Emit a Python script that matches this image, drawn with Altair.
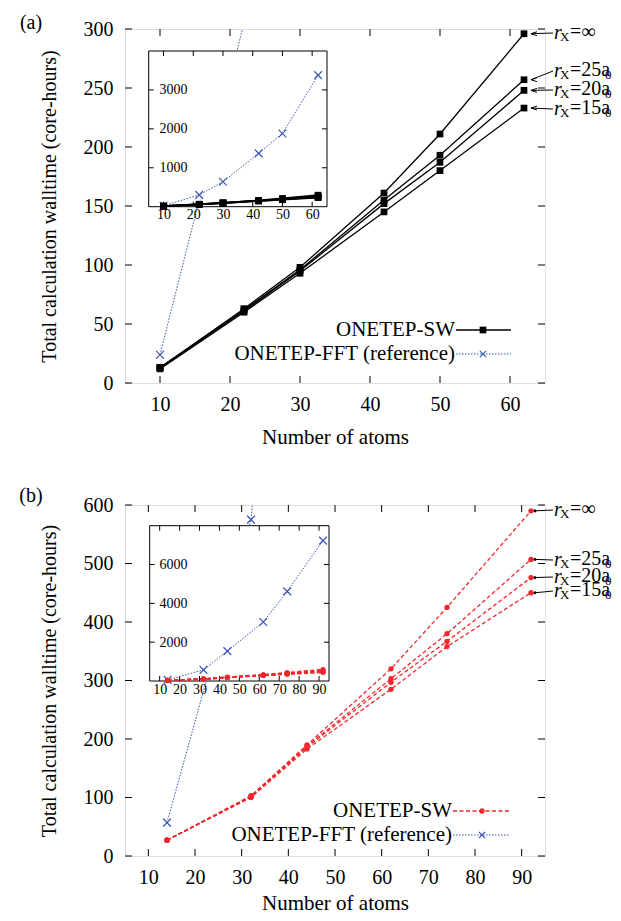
import altair as alt
import pandas as pd

FONT = "Liberation Serif, Times New Roman, Times, serif"
BLUE = "#3a56b4"
RED = "#f0282d"
CROSS = "M-1,-1L1,1M-1,1L1,-1"
ARROW = "M-1,0L0.7,-0.55M-1,0L0.7,0.55"

# ---------------- data: panel (a) ----------------
atoms_a = [10, 22, 30, 42, 50, 62]
sw_inf_a = [13, 63, 98, 161, 211, 296]
sw_25_a = [13, 62, 96, 155, 193, 257]
sw_20_a = [13, 61, 95, 152, 187, 248]
sw_15_a = [12, 60, 93, 145, 180, 233]
fft_a = [24, 305, 640, 1370, 1880, 3380]

# ---------------- data: panel (b) ----------------
atoms_b = [14, 32, 44, 62, 74, 92]
sw_inf_b = [27, 103, 190, 320, 425, 590]
sw_25_b = [27, 102, 188, 303, 380, 507]
sw_20_b = [27, 101, 186, 297, 367, 476]
sw_15_b = [27, 100, 183, 285, 358, 450]
fft_b = [57, 575, 1540, 3040, 4615, 7230]

series_names = ["inf", "25", "20", "15"]
label_main = ["=\u221e", "=25a", "=20a", "=15a"]
label_sub0 = ["", "0", "0", "0"]

xticks_a = [10, 20, 30, 40, 50, 60]
yticks_a = [0, 50, 100, 150, 200, 250, 300]
inset_xticks_a = [10, 20, 30, 40, 50, 60]
inset_yticks_a = [1000, 2000, 3000]

xticks_b = [10, 20, 30, 40, 50, 60, 70, 80, 90]
yticks_b = [0, 100, 200, 300, 400, 500, 600]
inset_xticks_b = [10, 20, 30, 40, 50, 60, 70, 80, 90]
inset_yticks_b = [2000, 4000, 6000]

legend_sw = "ONETEP-SW"
legend_fft = "ONETEP-FFT (reference)"
x_title = "Number of atoms"
y_title = "Total calculation walltime (core-hours)"

W = 420
ONE = pd.DataFrame({"d": [0]})


def long_df(atoms, series):
    rows = []
    for name, vals in series:
        for a, v in zip(atoms, vals):
            rows.append({"atoms": a, "time": v, "series": name})
    return pd.DataFrame(rows)


def txt(x, y, s, size=20, align="left", style="normal"):
    return alt.Chart(ONE).mark_text(align=align, baseline="middle", fontSize=size, fontStyle=style,
                                    font=FONT, color="black").encode(
        x=alt.value(x), y=alt.value(y), text=alt.value(s))


def make_panel(cfg):
    H = cfg["H"]
    xdom, ydom = cfg["xdom"], cfg["ydom"]
    ax_x = alt.Axis(values=cfg["xticks"], ticks=False, domain=False, grid=False,
                    labelFontSize=20, labelPadding=cfg["xlab_pad"], labelFlush=False, labelOverlap=False,
                    title=x_title, titleFontSize=21, titlePadding=cfg["xtitle_pad"],
                    titleFontWeight="normal")
    ax_y = alt.Axis(values=cfg["yticks"], ticks=False, domain=False, grid=False,
                    labelFontSize=20, labelPadding=12, labelOverlap=False,
                    title=y_title, titleFontSize=20, titlePadding=24,
                    titleFontWeight="normal")
    X = alt.X("atoms:Q", scale=alt.Scale(domain=xdom, nice=False, zero=False), axis=ax_x)
    Y = alt.Y("time:Q", scale=alt.Scale(domain=ydom, nice=False, zero=False), axis=ax_y)

    il, ir, it, ib = cfg["inset_box"]
    iax_x = alt.Axis(values=cfg["ixticks"], ticks=False, domain=False, grid=False,
                     labelFontSize=14, labelPadding=1, labelFlush=False, labelOverlap=False,
                     orient="bottom", offset=-(H - ib), title="", zindex=2, format="d")
    iax_y = alt.Axis(values=cfg["iyticks"], ticks=False, domain=False, grid=False,
                     labelFontSize=14, labelPadding=2, labelOverlap=False,
                     orient="left", offset=-cfg["iylab_right"] - 2, title="", zindex=2, format="d")
    IX = alt.X("atoms:Q", scale=alt.Scale(domain=cfg["ixdom"], range=[il, ir], nice=False, zero=False), axis=iax_x)
    IY = alt.Y("time:Q", scale=alt.Scale(domain=cfg["iydom"], range=[ib, it], nice=False, zero=False), axis=iax_y)

    atoms = cfg["atoms"]
    sw = cfg["sw"]
    sw_df = long_df(atoms, list(zip(series_names, sw)))
    fft_df = pd.DataFrame({"atoms": atoms, "time": cfg["fft"]})

    col = cfg["sw_color"]
    line_kw = dict(color=col, strokeWidth=1.3)
    if cfg["sw_dash"]:
        line_kw["strokeDash"] = cfg["sw_dash"]
    pt_kw = dict(shape=cfg["sw_shape"], filled=True, color=col, size=cfg["sw_size"], opacity=1)

    main = []
    # ticks (inward)
    xt = pd.DataFrame({"atoms": cfg["xticks"]})
    yt = pd.DataFrame({"time": cfg["yticks"]})
    main.append(alt.Chart(xt).mark_rule(color="black", strokeWidth=1).encode(x=X, y=alt.value(H), y2=alt.value(H - 7)))
    main.append(alt.Chart(xt).mark_rule(color="black", strokeWidth=1).encode(x=X, y=alt.value(0), y2=alt.value(7)))
    main.append(alt.Chart(yt).mark_rule(color="black", strokeWidth=1).encode(y=Y, x=alt.value(0), x2=alt.value(7)))
    main.append(alt.Chart(yt).mark_rule(color="black", strokeWidth=1).encode(y=Y, x=alt.value(W), x2=alt.value(W - 7)))
    # FFT
    main.append(alt.Chart(fft_df).mark_line(color=BLUE, strokeWidth=1, strokeDash=[1.5, 1.5], clip=True)
                .encode(x=X, y=Y))
    main.append(alt.Chart(fft_df).transform_filter(alt.datum.time <= ydom[1])
                .mark_point(shape=CROSS, color=BLUE, size=60, strokeWidth=1.2, filled=False, opacity=1)
                .encode(x=X, y=Y))
    # SW
    main.append(alt.Chart(sw_df).mark_line(**line_kw).encode(x=X, y=Y, detail="series:N"))
    main.append(alt.Chart(sw_df).mark_point(**pt_kw).encode(x=X, y=Y))

    # annotations
    lx = cfg["lab_x"]
    for i in range(4):
        ly = cfg["lab_y"][i]
        end = pd.DataFrame({"atoms": [atoms[-1]], "time": [sw[i][-1]]})
        main.append(alt.Chart(end).mark_rule(color="black", strokeWidth=1, xOffset=cfg["arrow_gap"])
                    .encode(x=X, y=Y, x2=alt.value(lx - 1), y2=alt.value(ly)))
        if cfg["arrow_head"] == "arrow":
            main.append(alt.Chart(end).mark_point(shape=ARROW, filled=False, color="black", size=50,
                                                  strokeWidth=1, opacity=1, xOffset=cfg["arrow_gap"] + 3.5)
                        .encode(x=X, y=Y))
        else:
            main.append(alt.Chart(end).mark_point(shape="diamond", filled=True, color="black", size=14,
                                                  opacity=1, xOffset=cfg["arrow_gap"])
                        .encode(x=X, y=Y))
        main.append(txt(lx, ly, "r", 20, style="italic"))
        main.append(txt(lx + 6, ly + 4, "X", 13))
        main.append(txt(lx + 16, ly - 1, label_main[i], 20))
        if label_sub0[i]:
            main.append(txt(lx + 51, ly + 4, label_sub0[i], 13))

    # legend
    tx, l0, l1, lm = cfg["leg_x"]
    y1, y2 = cfg["leg_y"]
    main.append(txt(tx, y1, legend_sw, 21, align="right"))
    main.append(txt(tx, y2, legend_fft, 21, align="right"))
    main.append(alt.Chart(ONE).mark_rule(**line_kw).encode(x=alt.value(l0), x2=alt.value(l1), y=alt.value(y1)))
    main.append(alt.Chart(ONE).mark_point(**pt_kw).encode(x=alt.value(lm), y=alt.value(y1)))
    main.append(alt.Chart(ONE).mark_rule(color=BLUE, strokeWidth=1, strokeDash=[1.5, 1.5])
                .encode(x=alt.value(l0), x2=alt.value(l1), y=alt.value(y2)))
    main.append(alt.Chart(ONE).mark_point(shape=CROSS, color=BLUE, size=40, strokeWidth=1.2, filled=False, opacity=1)
                .encode(x=alt.value(lm), y=alt.value(y2)))
    # panel letter
    main.append(txt(cfg["letter_xy"][0], cfg["letter_xy"][1], cfg["letter"], 20, align="center"))

    main_layer = alt.layer(*main)

    # ---------------- inset ----------------
    ins = []
    ins.append(alt.Chart(ONE).mark_rect(fill="white", stroke="black", strokeWidth=1)
               .encode(x=alt.value(il), x2=alt.value(ir), y=alt.value(it), y2=alt.value(ib)))
    ixt = pd.DataFrame({"atoms": cfg["ixticks"]})
    iyt = pd.DataFrame({"time": cfg["iyticks"]})
    ins.append(alt.Chart(ixt).mark_rule(color="black", strokeWidth=1).encode(x=IX, y=alt.value(ib), y2=alt.value(ib - 5)))
    ins.append(alt.Chart(ixt).mark_rule(color="black", strokeWidth=1).encode(x=IX, y=alt.value(it), y2=alt.value(it + 5)))
    ins.append(alt.Chart(iyt).mark_rule(color="black", strokeWidth=1).encode(y=IY, x=alt.value(il), x2=alt.value(il + 5)))
    ins.append(alt.Chart(iyt).mark_rule(color="black", strokeWidth=1).encode(y=IY, x=alt.value(ir), x2=alt.value(ir - 5)))
    ins.append(alt.Chart(fft_df).mark_line(color=BLUE, strokeWidth=1, strokeDash=[1.5, 1.5]).encode(x=IX, y=IY))
    ins.append(alt.Chart(fft_df).mark_point(shape=CROSS, color=BLUE, size=60, strokeWidth=1.2, filled=False, opacity=1)
               .encode(x=IX, y=IY))
    iline = dict(line_kw)
    iline["strokeWidth"] = 1.8
    ins.append(alt.Chart(sw_df).mark_line(**iline).encode(x=IX, y=IY, detail="series:N"))
    ipt = dict(pt_kw)
    ins.append(alt.Chart(sw_df).mark_point(**ipt).encode(x=IX, y=IY))
    inset_layer = alt.layer(*ins)

    return alt.layer(main_layer, inset_layer).resolve_scale(x="independent", y="independent").properties(
        width=W, height=H)


HA = 354
HB = 351
cfg_a = dict(
    H=HA,
    xdom=[5, 65], ydom=[0, 300], xticks=xticks_a, yticks=yticks_a,
    atoms=atoms_a, sw=[sw_inf_a, sw_25_a, sw_20_a, sw_15_a], fft=fft_a,
    sw_color="black", sw_dash=None, sw_shape="square", sw_size=45,
    inset_box=(23.7, 202, 22, 177.7), ixdom=[5, 65], iydom=[0, 4000],
    ixticks=inset_xticks_a, iyticks=inset_yticks_a, iylab_right=62,
    lab_x=429, lab_y=[4, 42, 61, 80], arrow_gap=7, arrow_head="arrow",
    leg_x=(330, 331, 386, 358), leg_y=(301, 325),
    letter="(a)", letter_xy=(-94, -6),
    xlab_pad=11, xtitle_pad=12,
)
cfg_b = dict(
    H=HB,
    xdom=[5, 95], ydom=[0, 600], xticks=xticks_b, yticks=yticks_b,
    atoms=atoms_b, sw=[sw_inf_b, sw_25_b, sw_20_b, sw_15_b], fft=fft_b,
    sw_color=RED, sw_dash=[4, 2.5], sw_shape="circle", sw_size=28,
    inset_box=(24.7, 204, 20.7, 176), ixdom=[5, 95], iydom=[0, 8000],
    ixticks=inset_xticks_b, iyticks=inset_yticks_b, iylab_right=62,
    lab_x=429, lab_y=[5, 55, 72, 86], arrow_gap=4, arrow_head="dot",
    leg_x=(327, 328, 385, 357), leg_y=(306, 330),
    letter="(b)", letter_xy=(-94, -9),
    xlab_pad=11, xtitle_pad=5,
)

chart = alt.vconcat(make_panel(cfg_a), make_panel(cfg_b), spacing=37).configure_view(
    stroke="black", strokeWidth=1.5
).configure(font=FONT).configure_axis(
    labelFont=FONT, titleFont=FONT, labelColor="black", titleColor="black"
).properties(padding={"left": 10, "top": 4, "right": 0, "bottom": 0}, background="white")

chart.save("out.html", embed_options={"renderer": "svg", "actions": False})
